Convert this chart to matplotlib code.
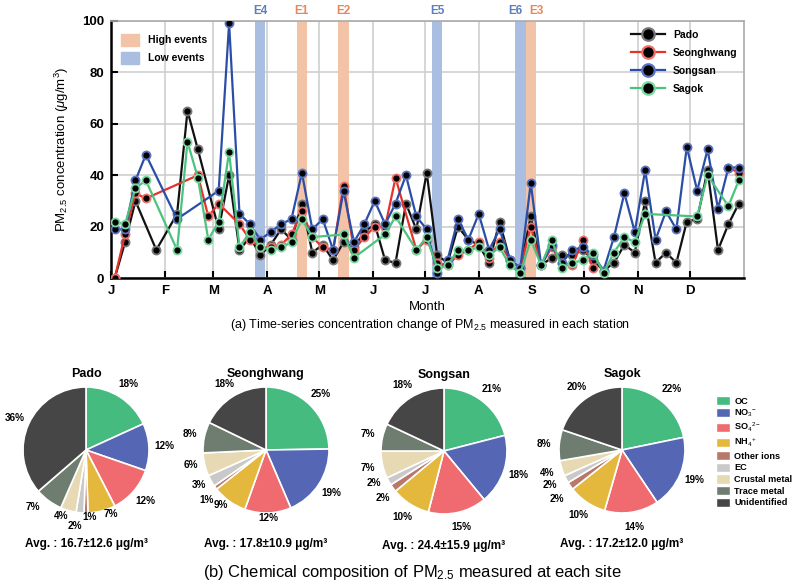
import numpy as np
import matplotlib
matplotlib.use('Agg')
import matplotlib.pyplot as plt
from matplotlib import font_manager
from matplotlib.patches import Patch
from matplotlib.lines import Line2D

plt.rcParams['font.family'] = ['Liberation Sans', 'DejaVu Sans']
plt.rcParams['mathtext.fontset'] = 'custom'
plt.rcParams['mathtext.rm'] = 'Liberation Sans'
plt.rcParams['mathtext.it'] = 'Liberation Sans:italic'
plt.rcParams['mathtext.bf'] = 'Liberation Sans:bold'

#sampling days (every 6 days through the year)
sample_day = np.arange(2, 365, 6)

#PM2.5 per site, None = no sample
pado = [0, 14, 30, None, 11, None, 25, 65, 50, None,
        19, 40, 11, 16, 9, 13, 19, 15, 29, 10,
        13, 7, 14, 12, 18, 21, 7, 6, 29, 19,
        41, 9, 6, 20, 15, 13, 6, 22, 7, 4,
        24, 5, 8, 9, 9, 11, 7, 3, 6, 13,
        10, 30, 6, 10, 6, 22, 23, 42, 11, 21, 29]
seonghwang = [0, 17, 33, 31, None, None, None, None, 40, 24,
              29, None, 21, 15, 12, 12, 13, 17, 26, 16,
              12, 11, 36, 11, 16, 20, 20, 39, None, 11,
              15, 6, 5, 9, 11, 14, 8, 14, 7, 4,
              20, 5, 12, 6, 5, 15, 4, None, None, None,
              None, None, None, None, None, None, None, None, None, 43, 41]
songsan = [19, 19, 38, 48, None, None, 23, None, None, None,
           34, 99, 25, 21, 15, 18, 21, 23, 41, 19,
           23, 11, 34, 14, 21, 30, 21, 29, 40, 24,
           19, 2, 7, 23, 15, 25, 11, 19, 7, 4,
           37, 5, 13, 6, 11, 12, 9, 3, 16, 33,
           18, 42, 15, 26, 19, 51, 34, 50, 27, 43, 43]
sagok = [22, 21, 35, 38, None, None, 11, 53, 39, 15,
         22, 49, 12, 18, 12, 11, 12, 14, 23, 16,
         None, None, 17, 8, None, None, 17, 24, None, 11,
         16, 4, 5, 11, 11, 12, 9, 12, 5, 2,
         15, 5, 15, 4, 6, 7, 10, 2, 10, 16,
         14, 25, None, None, None, None, 24, 40, None, 28, 38]

month_start = [0, 31, 59, 90, 120, 151, 181, 212, 243, 273, 304, 334]
month_labels = ['J', 'F', 'M', 'A', 'M', 'J', 'J', 'A', 'S', 'O', 'N', 'D']

#events: name, sample day, type
event_names = ['E4', 'E1', 'E2', 'E5', 'E6', 'E3']
event_days = [86, 110, 134, 188, 236, 242]
event_high = [False, True, True, False, False, True]
event_label_shift = [0, 0, 0, 0, -3, 3]

#chemical composition (%)
components = ['OC', 'NO$_3$$^{-}$', 'SO$_4$$^{2-}$', 'NH$_4$$^{+}$', 'Other ions',
              'EC', 'Crustal metal', 'Trace metal', 'Unidentified']
sites = ['Pado', 'Seonghwang', 'Songsan', 'Sagok']
comp_pado = [18, 12, 12, 7, 1, 2, 4, 7, 36]
comp_seonghwang = [25, 19, 12, 9, 1, 3, 6, 8, 18]
comp_songsan = [21, 18, 15, 10, 2, 2, 7, 7, 18]
comp_sagok = [22, 19, 14, 10, 2, 2, 4, 8, 20]
avg_text = ['16.7±12.6', '17.8±10.9', '24.4±15.9', '17.2±12.0']

comp_colors = ['#45bb80', '#5566b4', '#ef6b6f', '#e4b83c', '#b8786a',
               '#c9c9c9', '#e6d9b3', '#6f7d70', '#464646']
HIGH_C = '#f3c3a8'
LOW_C = '#a9bee0'


def has_font(name):
    try:
        font_manager.findfont(font_manager.FontProperties(family=name), fallback_to_default=False)
        return True
    except ValueError:
        return False


NARROW = has_font('Liberation Sans Narrow')
cap_family = ['Liberation Sans Narrow'] if NARROW else ['Liberation Sans']
cap_a_size = 10.8 if NARROW else 9.0
cap_b_size = 14.5 if NARROW else 11.9
leg_size = 7.5 if NARROW else 6.6

fig = plt.figure(figsize=(8, 5.85), dpi=100)

#---- (a) time series ----
ax = fig.add_axes([0.139, 0.5243, 0.791, 0.4403])

for name, d, hi, sh in zip(event_names, event_days, event_high, event_label_shift):
    c = HIGH_C if hi else LOW_C
    ax.axvspan(d - 3, d + 3, color=c, lw=0, zorder=1)
    ax.text(d + sh, 1.015, name, transform=ax.get_xaxis_transform(),
            ha='center', va='bottom', fontsize=8.5, fontweight='bold',
            color='#e8875a' if hi else '#5b7fc2')


def draw_series(vals, color, edge, label, z):
    y = np.array([np.nan if v is None else v for v in vals], dtype=float)
    ok = ~np.isnan(y)
    xd, yd = sample_day[ok], y[ok]
    #break the line where a long gap of missing samples exists
    cuts = np.where(np.diff(xd) > 40)[0] + 1
    for xs, ys in zip(np.split(xd, cuts), np.split(yd, cuts)):
        ax.plot(xs, ys, color=color, lw=1.6, zorder=z)
    ax.plot(xd, yd, ls='none', marker='o', ms=5.8, mfc='black',
            mec=edge, mew=1.3, zorder=z + 0.5)
    return Line2D([], [], color=color, lw=1.6, marker='o', ms=9,
                  mfc='black', mec=edge, mew=1.6, label=label)


handles = []
handles.append(draw_series(pado, '#111111', '#777777', 'Pado', 3))
handles.append(draw_series(seonghwang, '#e5322b', '#ef6f6a', 'Seonghwang', 4))
handles.append(draw_series(songsan, '#2a4ea6', '#5b73c0', 'Songsan', 5))
handles.append(draw_series(sagok, '#4cc27f', '#7ad8a0', 'Sagok', 6))

ax.set_xlim(0, 365)
ax.set_ylim(0, 100)
ax.set_xticks(month_start)
ax.set_xticklabels(month_labels, fontweight='bold', fontsize=9.5)
ax.set_yticks([0, 20, 40, 60, 80, 100])
ax.set_yticklabels(['0', '20', '40', '60', '80', '100'], fontweight='bold', fontsize=9.5)
ax.tick_params(direction='in', length=5, width=1.5, pad=5)
ax.grid(color='#cccccc', lw=1.1, zorder=0)
ax.set_axisbelow(True)
for s in ['left', 'bottom']:
    ax.spines[s].set_linewidth(1.8)
for s in ['top', 'right']:
    ax.spines[s].set_color('#aaaaaa')
    ax.spines[s].set_linewidth(1.2)
ax.set_ylabel('PM$_{2.5}$ concentration ($\\mu$g/m$^3$)', fontsize=9.5, labelpad=8)
ax.set_xlabel('Month', fontsize=cap_a_size + 0.5, family=cap_family, labelpad=3)

leg1 = ax.legend(handles=handles, loc='upper right', bbox_to_anchor=(1.005, 1.0),
                 frameon=False, handlelength=3.2, labelspacing=0.75,
                 prop={'weight': 'bold', 'size': 7.5})
ax.add_artist(leg1)
ev_handles = [Patch(color=HIGH_C, label='High events'), Patch(color=LOW_C, label='Low events')]
ax.legend(handles=ev_handles, loc='upper left', bbox_to_anchor=(0.0, 0.985),
          frameon=False, handlelength=1.8, handleheight=1.4, labelspacing=0.55,
          prop={'weight': 'bold', 'size': 7.5})

fig.text(430 / 800, 1 - 325 / 585, '(a) Time-series concentration change of PM$_{2.5}$ measured in each station',
         ha='center', va='center', fontsize=cap_a_size, family=cap_family)

#---- (b) pies ----
pie_centers = [(86, 450), (266, 450), (444, 451), (622, 450)]
R = 63
#hand placed labels for the crowded small slices (pie radius units)
label_xy = {('Pado', 3): (0.40, -1.02), ('Pado', 4): (0.05, -1.07), ('Pado', 5): (-0.17, -1.2),
            ('Pado', 6): (-0.40, -1.05), ('Pado', 7): (-0.84, -0.9),
            ('Seonghwang', 2): (0.03, -1.08), ('Seonghwang', 3): (-0.71, -0.88),
            ('Seonghwang', 4): (-0.94, -0.8), ('Seonghwang', 5): (-1.07, -0.56),
            ('Seonghwang', 6): (-1.2, -0.24),
            ('Songsan', 4): (-0.97, -0.74), ('Songsan', 5): (-1.11, -0.51),
            ('Sagok', 4): (-1.03, -0.77), ('Sagok', 5): (-1.14, -0.56)}
comps = [comp_pado, comp_seonghwang, comp_songsan, comp_sagok]

for site, vals, (cx, cy), avg in zip(sites, comps, pie_centers, avg_text):
    pax = fig.add_axes([(cx - R) / 800, 1 - (cy + R) / 585, 2 * R / 800, 2 * R / 585])
    pax.pie(vals, colors=comp_colors, startangle=90, counterclock=False,
            wedgeprops={'edgecolor': 'white', 'linewidth': 1.2})
    pax.set_xlim(-1, 1)
    pax.set_ylim(-1, 1)
    pax.axis('off')
    tot = float(sum(vals))
    cum = 0.0
    for i, v in enumerate(vals):
        mid = cum + v / 2.0
        cum += v
        th = np.deg2rad(90 - 360 * mid / tot)
        lx, ly = label_xy.get((site, i), (1.24 * np.cos(th), 1.24 * np.sin(th)))
        pax.text(lx, ly, '%d%%' % v, ha='center', va='center',
                 fontsize=7.2, fontweight='bold', clip_on=False)
    pax.text(0, 1.2, site, ha='center', va='center', fontsize=9, fontweight='bold')
    pax.text(0, -1.5, 'Avg. : %s μg/m³' % avg, ha='center', va='center',
             fontsize=8.5, fontweight='bold')

comp_handles = [Patch(facecolor=c, edgecolor='white', label=l) for c, l in zip(comp_colors, components)]
fig.legend(handles=comp_handles, loc='upper left', bbox_to_anchor=(716 / 800, 1 - 396 / 585),
           frameon=False, handlelength=1.5, handleheight=1.2, labelspacing=0.2,
           handletextpad=0.5, borderpad=0, borderaxespad=0,
           prop={'weight': 'bold', 'size': leg_size, 'family': cap_family + ['Liberation Sans']})

fig.text(412 / 800, 1 - 572 / 585, '(b) Chemical composition of PM$_{2.5}$ measured at each site',
         ha='center', va='center', fontsize=cap_b_size, family=cap_family)

fig.savefig('out.png', dpi=100, facecolor='white')
